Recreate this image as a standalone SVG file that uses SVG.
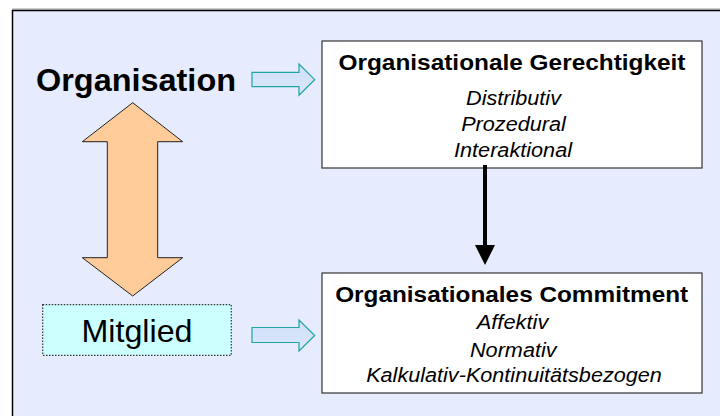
<svg xmlns="http://www.w3.org/2000/svg" width="720" height="416" viewBox="0 0 720 416">
  <style>
    .panel { fill: #e6ecfe; stroke: #000; stroke-width: 1.5; }
    .box { fill: #fff; stroke: #333; stroke-width: 1.2; }
    .title { font-family: "Liberation Sans", Arial, sans-serif; font-weight: bold; font-size: 21.5px; fill: #000; text-anchor: middle; }
    .item { font-family: "Liberation Sans", Arial, sans-serif; font-style: italic; font-size: 20.5px; fill: #000; text-anchor: middle; }
    .big { font-family: "Liberation Sans", Arial, sans-serif; font-size: 32px; fill: #000; text-anchor: middle; }
    .hollow { fill: url(#blueFill); stroke: #1fa3a3; stroke-width: 1.2; }
  </style>
  <defs>
    <linearGradient id="blueFill" x1="0" y1="0" x2="0" y2="1">
      <stop offset="0" stop-color="#cfe0f7"/>
      <stop offset="1" stop-color="#dbe7fa"/>
    </linearGradient>
  </defs>

  <!-- background panel -->
  <line x1="12" y1="9" x2="720" y2="9" stroke="#999" stroke-width="1"/>
  <rect class="panel" x="12.5" y="10.5" width="720" height="420"/>

  <!-- nodes -->
  <g id="organisation">
    <text class="big" x="136" y="91" font-weight="bold" textLength="200" lengthAdjust="spacingAndGlyphs">Organisation</text>
  </g>

  <g id="mitglied">
    <rect x="42.7" y="304.7" width="188.6" height="50.6" fill="#ccffff" stroke="#333" stroke-width="1.2" stroke-dasharray="1.5,1.5"/>
    <text class="big" x="137" y="342.3" textLength="111" lengthAdjust="spacingAndGlyphs">Mitglied</text>
  </g>

  <g id="gerechtigkeit">
    <rect class="box" x="322" y="41" width="380" height="127"/>
    <text class="title" x="512" y="70" textLength="347" lengthAdjust="spacingAndGlyphs">Organisationale Gerechtigkeit</text>
    <text class="item" x="513.5" y="105" textLength="95" lengthAdjust="spacingAndGlyphs">Distributiv</text>
    <text class="item" x="513.5" y="131" textLength="104.7" lengthAdjust="spacingAndGlyphs">Prozedural</text>
    <text class="item" x="513" y="156.7" textLength="118" lengthAdjust="spacingAndGlyphs">Interaktional</text>
  </g>

  <g id="commitment">
    <rect class="box" x="322" y="273" width="380" height="120"/>
    <text class="title" x="511.7" y="301.7" textLength="353" lengthAdjust="spacingAndGlyphs">Organisationales Commitment</text>
    <text class="item" x="512.5" y="329" textLength="71.7" lengthAdjust="spacingAndGlyphs">Affektiv</text>
    <text class="item" x="513.3" y="356.7" textLength="86.7" lengthAdjust="spacingAndGlyphs">Normativ</text>
    <text class="item" x="514" y="382" textLength="295.7" lengthAdjust="spacingAndGlyphs">Kalkulativ-Kontinuitätsbezogen</text>
  </g>

  <!-- connectors -->
  <g id="connectors">
    <!-- two-way relation between Organisation and Mitglied -->
    <path d="M132.7,102.7 L182.7,141.7 L157.7,141.7 L157.7,257.7 L182.7,257.7 L132.7,296 L82.3,257.7 L107.3,257.7 L107.3,141.7 L82.3,141.7 Z" fill="#ffcc99" stroke="#222" stroke-width="1"/>
    <!-- hollow block arrows into the boxes -->
    <path class="hollow" d="M252,72.3 L299,72.3 L299,64 L314.7,79.7 L299,95.3 L299,86.7 L252,86.7 Z"/>
    <path class="hollow" d="M252,327.5 L299,327.5 L299,320 L314.7,335.5 L299,351 L299,342.5 L252,342.5 Z"/>
    <!-- Gerechtigkeit to Commitment -->
    <line x1="485" y1="165" x2="485" y2="246" stroke="#000" stroke-width="4"/>
    <path d="M475,245 L495,245 L485,265 Z" fill="#000"/>
  </g>
</svg>
